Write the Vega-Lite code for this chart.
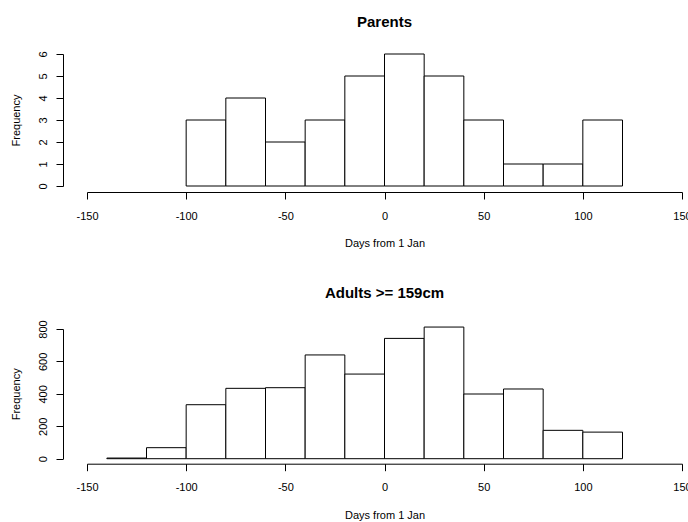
{
  "$schema": "https://vega.github.io/schema/vega-lite/v6.json",
  "autosize": {"type": "pad"},
  "padding": {"left": 10, "top": 14, "right": 0, "bottom": 0},
  "background": "white",
  "config": {
    "font": "Liberation Sans",
    "view": {"stroke": null},
    "title": {"font": "Liberation Sans", "fontSize": 15, "fontWeight": "bold", "color": "black", "anchor": "middle"},
    "axis": {
      "grid": false,
      "domainColor": "black",
      "tickColor": "black",
      "tickSize": 7,
      "labelFont": "Liberation Sans",
      "labelFontSize": 11,
      "labelColor": "black",
      "titleFont": "Liberation Sans",
      "titleFontSize": 11,
      "titleFontWeight": "normal",
      "titleColor": "black"
    }
  },
  "bounds": "flush",
  "spacing": 143,
  "vconcat": [
    {
      "title": {"text": "Parents", "offset": 21},
      "width": 595,
      "height": 132,
      "data": {"values": [
        {"start": -100, "end": -80, "count": 3},
        {"start": -80, "end": -60, "count": 4},
        {"start": -60, "end": -40, "count": 2},
        {"start": -40, "end": -20, "count": 3},
        {"start": -20, "end": 0, "count": 5},
        {"start": 0, "end": 20, "count": 6},
        {"start": 20, "end": 40, "count": 5},
        {"start": 40, "end": 60, "count": 3},
        {"start": 60, "end": 80, "count": 1},
        {"start": 80, "end": 100, "count": 1},
        {"start": 100, "end": 120, "count": 3}
      ]},
      "mark": {"type": "rect", "fill": "white", "stroke": "black", "strokeWidth": 1},
      "encoding": {
        "x": {"field": "start", "type": "quantitative", "scale": {"domain": [-150, 150], "nice": false, "zero": false},
              "axis": {"values": [-150, -100, -50, 0, 50, 100, 150], "labelExpr": "'' + datum.value", "offset": 6, "labelPadding": 11, "titlePadding": 16, "title": "Days from 1 Jan", "labelFlush": false}},
        "x2": {"field": "end"},
        "y": {"field": "count", "type": "quantitative", "scale": {"domain": [0, 6], "nice": false},
              "axis": {"values": [0, 1, 2, 3, 4, 5, 6], "offset": 24, "labelAngle": -90, "labelAlign": "center", "labelBaseline": "bottom", "labelPadding": 8, "titlePadding": 16, "title": "Frequency"}},
        "y2": {"datum": 0}
      }
    },
    {
      "title": {"text": "Adults >= 159cm", "offset": 19},
      "width": 595,
      "height": 129.7,
      "data": {"values": [
        {"start": -140, "end": -120, "count": 4},
        {"start": -120, "end": -100, "count": 68},
        {"start": -100, "end": -80, "count": 333},
        {"start": -80, "end": -60, "count": 434},
        {"start": -60, "end": -40, "count": 438},
        {"start": -40, "end": -20, "count": 640},
        {"start": -20, "end": 0, "count": 522},
        {"start": 0, "end": 20, "count": 742},
        {"start": 20, "end": 40, "count": 812},
        {"start": 40, "end": 60, "count": 399},
        {"start": 60, "end": 80, "count": 430},
        {"start": 80, "end": 100, "count": 175},
        {"start": 100, "end": 120, "count": 164}
      ]},
      "mark": {"type": "rect", "fill": "white", "stroke": "black", "strokeWidth": 1},
      "encoding": {
        "x": {"field": "start", "type": "quantitative", "scale": {"domain": [-150, 150], "nice": false, "zero": false},
              "axis": {"values": [-150, -100, -50, 0, 50, 100, 150], "labelExpr": "'' + datum.value", "offset": 5, "labelPadding": 11, "titlePadding": 17, "title": "Days from 1 Jan", "labelFlush": false}},
        "x2": {"field": "end"},
        "y": {"field": "count", "type": "quantitative", "scale": {"domain": [0, 800], "nice": false},
              "axis": {"values": [0, 200, 400, 600, 800], "offset": 24, "labelAngle": -90, "labelAlign": "center", "labelBaseline": "bottom", "labelPadding": 8, "titlePadding": 16, "title": "Frequency"}},
        "y2": {"datum": 0}
      }
    }
  ]
}
